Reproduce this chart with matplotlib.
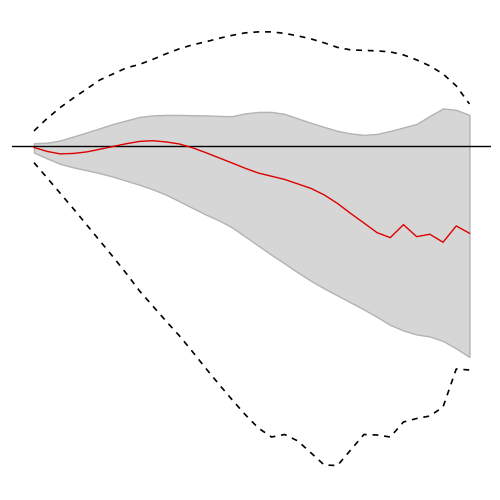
import matplotlib
matplotlib.use("Agg")
import matplotlib.pyplot as plt
import numpy as np

# horizon (periods after the shock)
horizon = list(range(34))

# point estimate of the response
response = [-0.015, -0.055, -0.08, -0.075, -0.06, -0.033, -0.005, 0.022, 0.045, 0.052,
            0.04, 0.02, -0.018, -0.066, -0.118, -0.17, -0.223, -0.271, -0.303, -0.335,
            -0.38, -0.425, -0.49, -0.575, -0.675, -0.77, -0.867, -0.917, -0.787, -0.907,
            -0.883, -0.963, -0.80, -0.873]

# inner (shaded) confidence band
band_upper = [0.027, 0.032, 0.055, 0.095, 0.135, 0.177, 0.22, 0.255, 0.29, 0.305,
              0.31, 0.31, 0.307, 0.305, 0.30, 0.297, 0.325, 0.34, 0.34, 0.32,
              0.275, 0.23, 0.19, 0.15, 0.125, 0.11, 0.12, 0.15, 0.185, 0.22,
              0.30, 0.375, 0.36, 0.31]
band_lower = [-0.067, -0.125, -0.18, -0.215, -0.243, -0.273, -0.308, -0.348, -0.389, -0.434,
              -0.487, -0.552, -0.619, -0.685, -0.743, -0.814, -0.905, -0.997, -1.089, -1.176,
              -1.265, -1.35, -1.425, -1.495, -1.565, -1.635, -1.71, -1.79, -1.845, -1.885,
              -1.905, -1.95, -2.025, -2.11]

# outer (dashed) bounds
outer_upper = [0.15, 0.275, 0.385, 0.48, 0.57, 0.66, 0.72, 0.78, 0.815, 0.865,
               0.92, 0.97, 1.01, 1.04, 1.075, 1.105, 1.13, 1.14, 1.14, 1.125,
               1.10, 1.07, 1.03, 0.985, 0.96, 0.955, 0.95, 0.94, 0.91, 0.86,
               0.80, 0.72, 0.60, 0.42]
outer_lower = [-0.167, -0.32, -0.475, -0.63, -0.79, -0.95, -1.11, -1.275, -1.45, -1.60,
               -1.75, -1.895, -2.055, -2.22, -2.38, -2.535, -2.685, -2.82, -2.91, -2.885,
               -2.95, -3.07, -3.19, -3.195, -3.04, -2.885, -2.89, -2.91, -2.76, -2.725,
               -2.70, -2.61, -2.23, -2.24]

fig = plt.figure(figsize=(5, 5), dpi=100)
ax = fig.add_axes([0.0244, 0.0256, 0.958, 0.954])

ax.fill_between(horizon, band_lower, band_upper, facecolor="#d6d6d6",
                edgecolor="#b3b3b3", linewidth=1.0, zorder=1)
ax.plot(horizon, outer_upper, color="black", linewidth=1.2, dashes=(3.5, 3.5), zorder=2)
ax.plot(horizon, outer_lower, color="black", linewidth=1.2, dashes=(3.5, 3.5), zorder=2)
ax.axhline(0, color="black", linewidth=1.0, zorder=3)
ax.plot(horizon, response, color="#dd0000", linewidth=1.0, zorder=4)

ax.axis("off")
fig.savefig("out.png", dpi=100)
